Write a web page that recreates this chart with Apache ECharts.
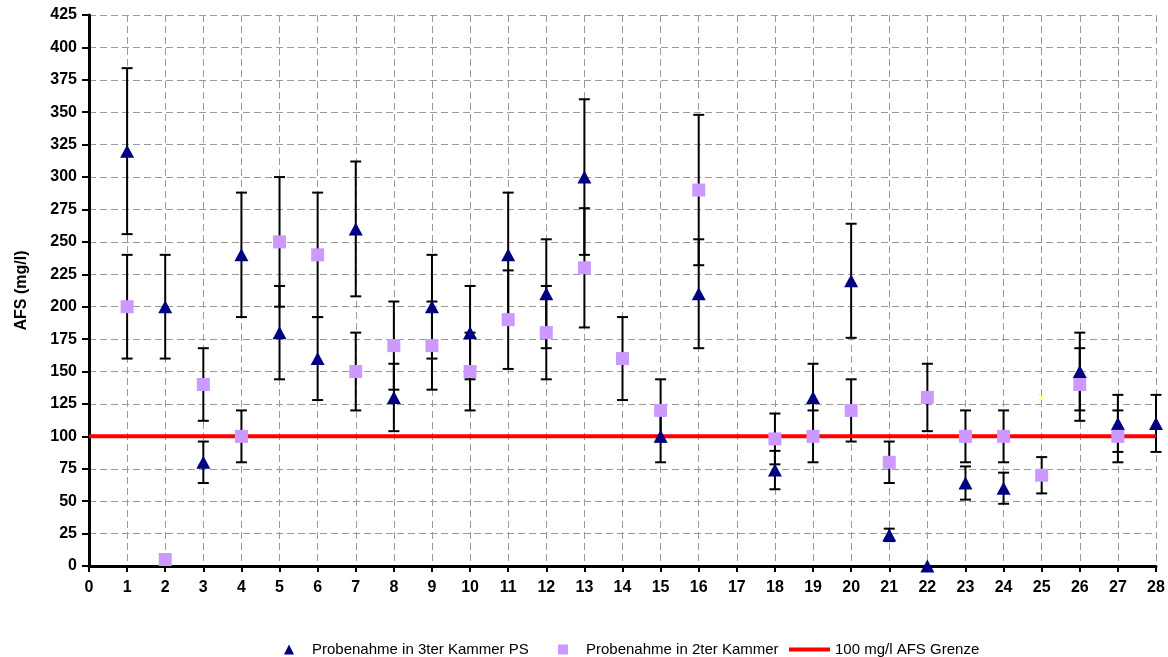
<!DOCTYPE html>
<html>
<head>
<meta charset="utf-8">
<script src="https://cdn.jsdelivr.net/npm/echarts@6/dist/echarts.min.js"></script>
<style>
html,body{margin:0;padding:0;background:#fff;}
#chart{width:1168px;height:657px;}
</style>
</head>
<body>
<div id="chart"></div>
<script>
// ---- data ----
const seriesNames = ['Probenahme in 3ter Kammer PS', 'Probenahme in 2ter Kammer', '100 mg/l AFS Grenze'];

// Probenahme in 3ter Kammer PS (triangles)
const xKammer3 = [1,2,3,4,5,6,7,8,9,10,11,12,13,15,16,18,19,20,21,22,23,24,26,27,28];
const yKammer3 = [320,200,80,240,180,160,260,130,200,180,240,210,300,100,210,74,130,220,24,0,64,60,150,110,110];

// Probenahme in 2ter Kammer (squares)
const xKammer2 = [1,2,3,4,5,6,7,8,9,10,11,12,13,14,15,16,18,19,20,21,22,23,24,25,26,27];
const yKammer2 = [200,5,140,100,250,240,150,170,170,150,190,180,230,160,120,290,98,100,120,80,130,100,100,70,140,100];

// stray pale marker without legend entry
const xExtra = [25];
const yExtra = [130];

// error bars: +/- percentage of value (chart's error bar setting)
const errorPercent = 20;

// limit line
const limitValue = 100;
const xRange = [0, 28];

// y ticks
const yMin = 0, yMax = 425, yStep = 25;

// ---- build ----
function pts(xs, ys){ return xs.map((x,i)=>[x, ys[i]]); }
function errs(xs, ys){ return xs.map((x,i)=>[x, ys[i]*(1-errorPercent/100), ys[i]*(1+errorPercent/100)]); }

function renderErr(params, api){
  const x = api.value(0), lo = api.value(1), hi = api.value(2);
  const p1 = api.coord([x, lo]);
  const p2 = api.coord([x, hi]);
  const hw = 5.5;
  const st = {stroke:'#000', lineWidth:2};
  return {type:'group', children:[
    {type:'line', shape:{x1:p1[0], y1:p1[1], x2:p2[0], y2:p2[1]}, style:st},
    {type:'line', shape:{x1:p1[0]-hw, y1:p1[1], x2:p1[0]+hw, y2:p1[1]}, style:st},
    {type:'line', shape:{x1:p2[0]-hw, y1:p2[1], x2:p2[0]+hw, y2:p2[1]}, style:st}
  ]};
}

const FONT = '"Liberation Sans", Arial, Helvetica, sans-serif';
const chart = echarts.init(document.getElementById('chart'), null, {renderer:'canvas'});

const legendBase = {
  orient:'horizontal', top:637, itemGap:0,
  textStyle:{fontFamily:FONT, fontSize:15, color:'#000'},
  selectedMode:false
};

chart.setOption({
  backgroundColor:'#fff',
  animation:false,
  grid:{left:89, right:12, top:15, bottom:91, containLabel:false},
  xAxis:{
    type:'value', min:xRange[0], max:xRange[1], interval:1,
    axisLine:{show:true, onZero:false, lineStyle:{color:'#000', width:3}},
    axisTick:{show:true, length:6, lineStyle:{color:'#000', width:2}},
    axisLabel:{fontFamily:FONT, fontSize:16, fontWeight:'bold', color:'#000', margin:14},
    splitLine:{show:true, lineStyle:{color:'#9a9a9a', width:1, type:[7,4]}}
  },
  yAxis:{
    type:'value', min:yMin, max:yMax, interval:yStep,
    name:'AFS (mg/l)', nameLocation:'middle', nameGap:59, nameRotate:90,
    nameTextStyle:{fontFamily:FONT, fontSize:16, fontWeight:'bold', color:'#000'},
    axisLine:{show:true, lineStyle:{color:'#000', width:3}},
    axisTick:{show:true, length:7, lineStyle:{color:'#000', width:2}},
    axisLabel:{fontFamily:FONT, fontSize:16, fontWeight:'bold', color:'#000', margin:12},
    splitLine:{show:true, lineStyle:{color:'#9a9a9a', width:1, type:[7,4]}}
  },
  legend:[
    Object.assign({}, legendBase, {left:279, itemWidth:10, itemHeight:10,
      data:[{name:seriesNames[0], icon:'triangle'}],
      textStyle:{fontFamily:FONT, fontSize:15, color:'#000', padding:[0,0,0,13]}}),
    Object.assign({}, legendBase, {left:553, itemWidth:10, itemHeight:10,
      data:[{name:seriesNames[1], icon:'rect'}],
      textStyle:{fontFamily:FONT, fontSize:15, color:'#000', padding:[0,0,0,13]}}),
    Object.assign({}, legendBase, {left:784, itemWidth:41, itemHeight:4,
      data:[{name:seriesNames[2], icon:'rect'}]})
  ],
  series:[
    {type:'custom', name:'err3', renderItem:renderErr, data:errs(xKammer3, yKammer3),
      encode:{x:0, y:[1,2]}, z:1, silent:true},
    {type:'custom', name:'err2', renderItem:renderErr, data:errs(xKammer2, yKammer2),
      encode:{x:0, y:[1,2]}, z:1, silent:true},
    {type:'line', name:seriesNames[2], data:xRange.map(x=>[x, limitValue]),
      showSymbol:false, symbol:'none', lineStyle:{color:'#ff0000', width:4},
      itemStyle:{color:'#ff0000'}, z:2},
    {type:'scatter', name:seriesNames[0], data:pts(xKammer3, yKammer3),
      symbol:'triangle', symbolSize:[14,13], itemStyle:{color:'#000080', opacity:1}, z:3},
    {type:'scatter', name:seriesNames[1], data:pts(xKammer2, yKammer2),
      symbol:'rect', symbolSize:13, itemStyle:{color:'#cc99ff', opacity:1}, z:4},
    {type:'scatter', name:'extra', data:pts(xExtra, yExtra),
      symbol:'path://M0,1L1,0L5,4L9,0L10,1L6,5L10,9L9,10L5,6L1,10L0,9L4,5Z',
      symbolSize:8, itemStyle:{color:'#ffffa0', opacity:1}, z:4}
  ]
});
</script>
</body>
</html>
